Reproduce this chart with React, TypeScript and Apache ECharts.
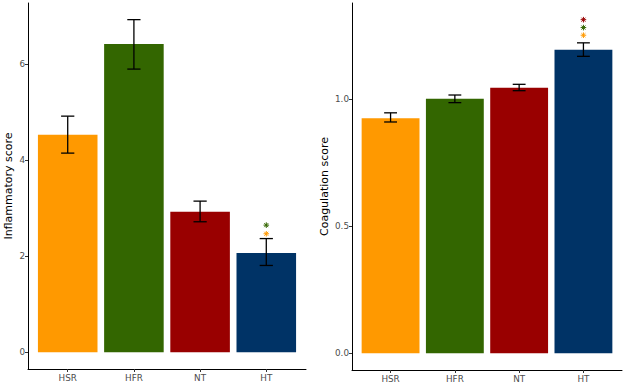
import React, { useEffect, useRef } from "react";
import * as echarts from "echarts";

const categories = ["HSR", "HFR", "NT", "HT"];
const barColors = ["#FF9900", "#336600", "#990000", "#003366"];

const inflammMean = [4.53, 6.42, 2.93, 2.07];
const inflammLow = [4.15, 5.9, 2.72, 1.81];
const inflammHigh = [4.92, 6.93, 3.15, 2.37];
const inflammStarY = [2.47, 2.65];
const inflammStarColor = ["#FF9900", "#336600"];
const inflammTicks = [0, 2, 4, 6];

const coagMean = [0.924, 1.0, 1.044, 1.193];
const coagLow = [0.909, 0.985, 1.032, 1.167];
const coagHigh = [0.945, 1.015, 1.057, 1.22];
const coagStarY = [1.25, 1.28, 1.311];
const coagStarColor = ["#FF9900", "#336600", "#990000"];
const coagTicks = [0, 0.5, 1.0];

const starCategory = 4; // HT

const FONT = "DejaVu Sans";

function expandRange(lo: number, hi: number) {
  const d = (hi - lo) * 0.05;
  return [lo - d, hi + d];
}

export default function App() {
  const ref = useRef<HTMLDivElement>(null);
  useEffect(() => {
    if (!ref.current) return;
    const chart = echarts.init(ref.current, null, { renderer: "svg" });

    const panels = [
      {
        mean: inflammMean, low: inflammLow, high: inflammHigh,
        starY: inflammStarY, starColor: inflammStarColor, ticks: inflammTicks,
        name: "Inflammatory score", digits: 0, nameGap: 14,
      },
      {
        mean: coagMean, low: coagLow, high: coagHigh,
        starY: coagStarY, starColor: coagStarColor, ticks: coagTicks,
        name: "Coagulation score", digits: 1, nameGap: 22,
      },
    ];

    const grids = [
      { left: 28, top: 3, width: 278, height: 366 },
      { left: 352, top: 3, width: 270, height: 367 },
    ];

    const xAxes: any[] = [];
    const yAxes: any[] = [];
    const series: any[] = [];
    const catVals = categories.map((_, i) => i + 1);

    panels.forEach((p, k) => {
      const hiAll = Math.max(...p.high, ...p.starY);
      const loAll = Math.min(0, ...p.low);
      const [ymin, ymax] = expandRange(loAll, hiAll);
      xAxes.push({
        type: "value", gridIndex: k, min: 0.4, max: 4.6,
        axisLine: { show: true, onZero: false, lineStyle: { color: "#000", width: 1 } },
        axisTick: { show: true, customValues: catVals, length: 3, lineStyle: { color: "#333" } },
        axisLabel: {
          customValues: catVals, formatter: (v: number) => categories[Math.round(v) - 1] ?? "",
          color: "#4D4D4D", fontFamily: FONT, fontSize: 8.8, margin: 4,
        },
        splitLine: { show: false },
      });
      yAxes.push({
        type: "value", gridIndex: k, min: ymin, max: ymax,
        name: p.name, nameLocation: "middle", nameGap: p.nameGap,
        nameTextStyle: { color: "#000", fontFamily: FONT, fontSize: 11 },
        axisLine: { show: true, onZero: false, lineStyle: { color: "#000", width: 1 } },
        axisTick: { show: true, customValues: p.ticks, length: 3, lineStyle: { color: "#333" } },
        axisLabel: {
          customValues: p.ticks, formatter: (v: number) => v.toFixed(p.digits),
          color: "#4D4D4D", fontFamily: FONT, fontSize: 8.8, margin: 3,
        },
        splitLine: { show: false },
      });
      series.push({
        type: "custom", xAxisIndex: k, yAxisIndex: k,
        data: categories.map((_, i) => [i + 1, p.mean[i]]),
        renderItem: (params: any, api: any) => {
          const x = api.value(0), y = api.value(1);
          const p0 = api.coord([x, 0]);
          const p1 = api.coord([x, y]);
          const w = api.size([0.9, 0])[0];
          return {
            type: "rect",
            shape: { x: p0[0] - w / 2, y: p1[1], width: w, height: p0[1] - p1[1] },
            style: { fill: barColors[params.dataIndex] },
          };
        },
      });
      series.push({
        type: "custom", xAxisIndex: k, yAxisIndex: k,
        data: categories.map((_, i) => [i + 1, p.low[i], p.high[i]]),
        renderItem: (params: any, api: any) => {
          const x = api.value(0);
          const lo = api.coord([x, api.value(1)]);
          const hi = api.coord([x, api.value(2)]);
          const w = api.size([0.2, 0])[0];
          const st = { stroke: "#000", lineWidth: 1.3 };
          return {
            type: "group",
            children: [
              { type: "line", shape: { x1: lo[0], y1: lo[1], x2: hi[0], y2: hi[1] }, style: st },
              { type: "line", shape: { x1: lo[0] - w / 2, y1: lo[1], x2: lo[0] + w / 2, y2: lo[1] }, style: st },
              { type: "line", shape: { x1: hi[0] - w / 2, y1: hi[1], x2: hi[0] + w / 2, y2: hi[1] }, style: st },
            ],
          };
        },
      });
      series.push({
        type: "custom", xAxisIndex: k, yAxisIndex: k,
        data: p.starY.map((y) => [starCategory, y]),
        renderItem: (params: any, api: any) => {
          const c = api.coord([api.value(0), api.value(1)]);
          const r = 2.8;
          const d = r * 0.707;
          const st = { stroke: p.starColor[params.dataIndex], lineWidth: 1 };
          return {
            type: "group",
            children: [
              { type: "line", shape: { x1: c[0] - r, y1: c[1], x2: c[0] + r, y2: c[1] }, style: st },
              { type: "line", shape: { x1: c[0], y1: c[1] - r, x2: c[0], y2: c[1] + r }, style: st },
              { type: "line", shape: { x1: c[0] - d, y1: c[1] - d, x2: c[0] + d, y2: c[1] + d }, style: st },
              { type: "line", shape: { x1: c[0] - d, y1: c[1] + d, x2: c[0] + d, y2: c[1] - d }, style: st },
            ],
          };
        },
      });
    });

    chart.setOption({
      animation: false,
      backgroundColor: "#fff",
      grid: grids,
      xAxis: xAxes,
      yAxis: yAxes,
      series,
    });
    return () => chart.dispose();
  }, []);
  return (
    <div
      ref={ref}
      style={{ position: "absolute", left: 0, top: 0, width: 624, height: 384 }}
    />
  );
}
